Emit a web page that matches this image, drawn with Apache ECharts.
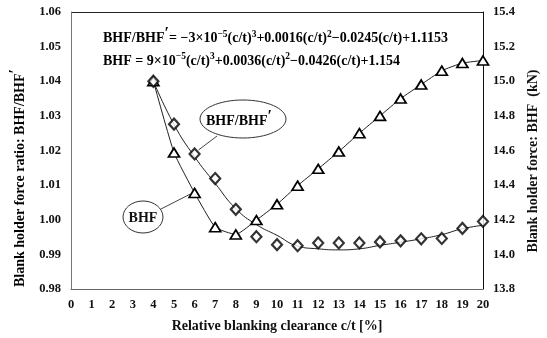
<!DOCTYPE html>
<html>
<head>
<meta charset="utf-8">
<script src="https://cdn.jsdelivr.net/npm/echarts@6/dist/echarts.min.js"></script>
<style>
  html, body { margin: 0; padding: 0; background: #fff; }
  #chart { width: 547px; height: 338px; }
</style>
</head>
<body>
<div id="chart"></div>
<script>
// Relative blanking clearance c/t [%]
const clearance = [4, 5, 6, 7, 8, 9, 10, 11, 12, 13, 14, 15, 16, 17, 18, 19, 20];
// Blank holder force ratio BHF/BHF' (diamonds, left axis)
const ratio = [1.0400, 1.0276, 1.0190, 1.0119, 1.0030, 0.9951, 0.9928, 0.9925, 0.9933, 0.9933, 0.9933, 0.9936, 0.9939, 0.9945, 0.9946, 0.9975, 0.9995];
// Fitted trend of the ratio at each clearance
const ratioFit = [1.0400, 1.0275, 1.0182, 1.0105, 1.0032, 0.9986, 0.9955, 0.9924, 0.9916, 0.9913, 0.9916, 0.9926, 0.9935, 0.9945, 0.9957, 0.9974, 0.9984];
// Blank holder force BHF in kN (triangles, right axis)
const force = [15.00, 14.588, 14.355, 14.157, 14.115, 14.198, 14.289, 14.397, 14.494, 14.594, 14.700, 14.800, 14.900, 14.981, 15.061, 15.105, 15.120];

const ratioTicks = { min: 0.98, max: 1.06, step: 0.01 };
const forceTicks = { min: 13.8, max: 15.4, step: 0.2 };

const FONT = '"Liberation Serif", "Times New Roman", serif';
const INK = '#111';

const pairs = (ys) => clearance.map((x, i) => [x, ys[i]]);

const chart = echarts.init(document.getElementById('chart'), null, { renderer: 'canvas' });

const sup = { fontSize: 9.5, fontWeight: 'bold', fontFamily: FONT, color: INK, padding: [0, 0, 8, 0] };
const base = { fontSize: 14, fontWeight: 'bold', fontFamily: FONT, color: INK };
const prime = { fontSize: 16, fontWeight: 'bold', fontFamily: FONT, color: INK, padding: [0, 0, 9, 0] };

chart.setOption({
  backgroundColor: '#fff',
  animation: false,
  grid: { left: 71, right: 64, top: 12, bottom: 44 },
  xAxis: {
    type: 'value', min: 0, max: 20, interval: 1,
    axisLine: { show: true, lineStyle: { color: '#666', width: 1 } },
    axisTick: { show: false },
    splitLine: { show: false },
    axisLabel: { margin: 9, fontFamily: FONT, fontWeight: 'bold', fontSize: 12.5, color: INK },
    name: 'Relative blanking clearance c/t [%]',
    nameLocation: 'middle', nameGap: 30,
    nameTextStyle: { fontFamily: FONT, fontWeight: 'bold', fontSize: 14, color: INK }
  },
  yAxis: [
    {
      type: 'value', min: ratioTicks.min, max: ratioTicks.max, interval: ratioTicks.step,
      axisLine: { show: true, lineStyle: { color: '#777', width: 1 } },
      axisTick: { show: false },
      splitLine: { show: false },
      axisLabel: { margin: 10, fontFamily: FONT, fontWeight: 'bold', fontSize: 12.5, color: INK,
                   formatter: v => v.toFixed(2) }
    },
    {
      type: 'value', min: forceTicks.min, max: forceTicks.max, interval: forceTicks.step,
      position: 'right',
      axisLine: { show: true, lineStyle: { color: '#111', width: 1 } },
      axisTick: { show: false },
      splitLine: { show: false },
      axisLabel: { margin: 10, fontFamily: FONT, fontWeight: 'bold', fontSize: 12.5, color: INK,
                   formatter: v => v.toFixed(1) }
    }
  ],
  series: [
    {
      name: 'BHF/BHF\u2032', type: 'scatter', yAxisIndex: 0, z: 5,
      data: pairs(ratio),
      symbol: 'diamond', symbolSize: [10, 11],
      itemStyle: { color: '#fff', borderColor: '#000', borderWidth: 2.2 }
    },
    {
      name: 'fit', type: 'line', yAxisIndex: 0, z: 3,
      data: pairs(ratioFit), smooth: 0.5, showSymbol: false,
      lineStyle: { color: '#222', width: 1 }
    },
    {
      name: 'BHF', type: 'line', yAxisIndex: 1, z: 4,
      data: pairs(force), smooth: 0.15,
      symbol: 'triangle', symbolSize: [11, 9], showAllSymbol: true,
      lineStyle: { color: '#222', width: 1 },
      itemStyle: { color: '#fff', borderColor: '#000', borderWidth: 1.7 }
    }
  ]
});

// Callout bubbles pointing at the c/t = 6 markers of each series
const pRatio = chart.convertToPixel({ seriesIndex: 0 }, [clearance[2], ratio[2]]);
const pForce = chart.convertToPixel({ seriesIndex: 2 }, [clearance[2], force[2]]);

chart.setOption({
  graphic: [
    // top border of the plot frame
    { type: 'line', shape: { x1: 71, y1: 12.5, x2: 483, y2: 12.5 }, style: { stroke: '#222', lineWidth: 1 }, silent: true },
    // fitted equations
    {
      type: 'text', left: 103, top: 26, silent: true,
      style: {
        rich: { b: base, s: sup, p: prime },
        text: '{b|BHF/BHF}{p|\u2032}{b|= \u22123\u00d710}{s|\u22125}{b|(c/t)}{s|3}{b|+0.0016(c/t)}{s|2}{b|\u22120.0245(c/t)+1.1153}'
      }
    },
    {
      type: 'text', left: 103, top: 52, silent: true,
      style: {
        rich: { b: base, s: sup },
        text: '{b|BHF = 9\u00d710}{s|\u22125}{b|(c/t)}{s|3}{b|+0.0036(c/t)}{s|2}{b|\u22120.0426(c/t)+1.154}'
      }
    },
    // axis titles
    {
      type: 'text', x: 20, y: 178, rotation: Math.PI / 2, silent: true,
      style: {
        rich: { b: base, p: prime },
        text: '{b|Blank holder force ratio: BHF/BHF}{p|\u2032}',
        align: 'center', verticalAlign: 'middle'
      }
    },
    {
      type: 'text', x: 533, y: 161, rotation: Math.PI / 2, silent: true,
      style: {
        text: 'Blank holder force: BHF  (kN)',
        font: 'bold 14px ' + FONT, fill: INK,
        align: 'center', verticalAlign: 'middle'
      }
    },
    // callouts
    { type: 'ellipse', shape: { cx: 243, cy: 119, rx: 43, ry: 19 }, style: { fill: '#fff', stroke: '#333', lineWidth: 1 }, z: 10 },
    { type: 'line', shape: { x1: 217, y1: 136, x2: pRatio[0] + 4, y2: pRatio[1] - 4 }, style: { stroke: '#444', lineWidth: 1 }, z: 10 },
    {
      type: 'text', x: 239, y: 121, z: 11,
      style: { rich: { b: base, p: prime }, text: '{b|BHF/BHF}{p|\u2032}', align: 'center', verticalAlign: 'middle' }
    },
    { type: 'ellipse', shape: { cx: 143, cy: 217, rx: 20, ry: 16 }, style: { fill: '#fff', stroke: '#333', lineWidth: 1 }, z: 10 },
    { type: 'line', shape: { x1: 161, y1: 209, x2: pForce[0] - 4, y2: pForce[1] + 1 }, style: { stroke: '#444', lineWidth: 1 }, z: 10 },
    {
      type: 'text', x: 143, y: 218, z: 11,
      style: { text: 'BHF', font: 'bold 14px ' + FONT, fill: INK, align: 'center', verticalAlign: 'middle' }
    }
  ]
});
</script>
</body>
</html>
